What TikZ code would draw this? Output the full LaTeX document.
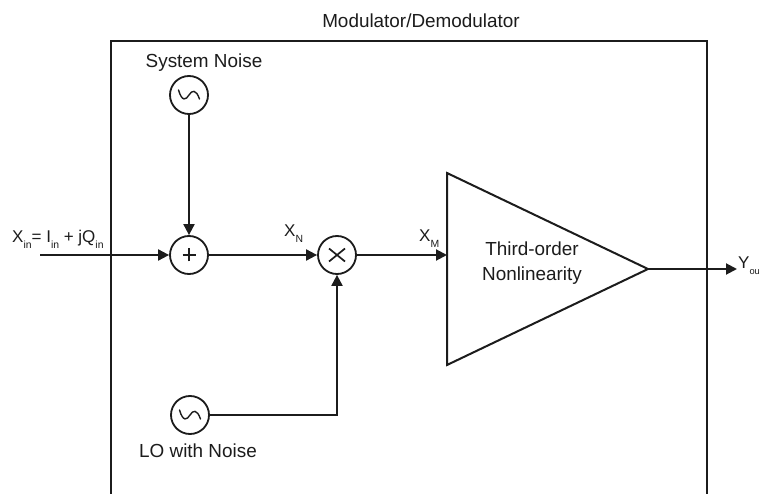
\documentclass[tikz,border=0pt]{standalone}
\usepackage{fontspec}
\setmainfont{Liberation Sans}
\usetikzlibrary{arrows.meta}
\definecolor{ink}{HTML}{1C1C1C}
\newcommand{\sbs}[1]{\raisebox{-0.3em}{\fontsize{10.4}{12}\selectfont #1}}
\newcommand{\sbsy}[1]{\raisebox{-0.3em}{\fontsize{9.3}{12}\selectfont #1}}
\tikzset{
  x=1pt,y=-1pt,
  wire/.style={draw=ink,line width=2pt},
  flow/.style={wire,-{Triangle[length=11pt,width=11pt]}},
  circ/.style={circle,draw=ink,line width=1.8pt,fill=white,minimum size=38pt,inner sep=0pt},
  lbl/.style={text=ink,font=\fontsize{18.9}{22}\selectfont,inner sep=0pt},
  tiny/.style={text=ink,font=\fontsize{17}{19}\selectfont,inner sep=0pt},
  sine/.style={draw=ink,line width=1.4pt,line cap=round}
}
\begin{document}
\begin{tikzpicture}
\useasboundingbox (0,0) rectangle (760,494);
\path[fill=white] (0,0) rectangle (760,494);
% enclosing open box
\coordinate (bl) at (111,494);
\coordinate (tl) at (111,41);
\coordinate (tr) at (707,41);
\coordinate (br) at (707,494);
\draw[wire] (bl) -- (tl) -- (tr) -- (br);
\node[lbl] (title) at (421,21) {Modulator/Demodulator};
% nodes
\node[circ] (osc) at (189,95) {};
\node[circ] (sum) at (189,255) {};
\node[circ] (mix) at (337,255) {};
\node[circ] (lo) at (190,415) {};
\coordinate (t1) at (447,173);
\coordinate (t2) at (447,365);
\coordinate (t3) at (648,269);
\draw[wire,line join=miter] (t1) -- (t3) -- (t2) -- cycle;
\coordinate (tin) at (447,255);
\coordinate (in) at (40,255);
\coordinate (out) at (737,269);
\coordinate (corner) at (337,415);
% symbols
\draw[wire] ([xshift=-6.5pt]sum.center) -- ([xshift=6.5pt]sum.center);
\draw[wire] ([yshift=-6.5pt]sum.center) -- ([yshift=6.5pt]sum.center);
\draw[wire,line width=1.7pt] ([xshift=-8pt,yshift=-6.5pt]mix.center) -- ([xshift=8pt,yshift=6.5pt]mix.center);
\draw[wire,line width=1.7pt] ([xshift=-8pt,yshift=6.5pt]mix.center) -- ([xshift=8pt,yshift=-6.5pt]mix.center);
\draw[sine] ([xshift=-10.5pt,yshift=5pt]osc.center) .. controls ([xshift=-7pt,yshift=-7pt]osc.center) and ([xshift=-3pt,yshift=-5pt]osc.center) .. (osc.center) .. controls ([xshift=3pt,yshift=5pt]osc.center) and ([xshift=7pt,yshift=6pt]osc.center) .. ([xshift=10.5pt,yshift=-4pt]osc.center);
\draw[sine] ([xshift=-10.5pt,yshift=5pt]lo.center) .. controls ([xshift=-7pt,yshift=-7pt]lo.center) and ([xshift=-3pt,yshift=-5pt]lo.center) .. (lo.center) .. controls ([xshift=3pt,yshift=5pt]lo.center) and ([xshift=7pt,yshift=6pt]lo.center) .. ([xshift=10.5pt,yshift=-4pt]lo.center);
% connectors
\draw[flow] (osc) -- (sum);
\draw[flow] (in) -- (sum);
\draw[flow] (sum) -- (mix);
\draw[flow] (mix) -- (tin);
\draw[flow] (lo) -- (corner) -- (mix);
\draw[flow] (t3) -- (out);
% labels
\node[lbl] (sn) at (204,63) {System Noise};
\node[lbl] (ln) at (198,451) {LO with Noise};
\node[lbl,align=center] (tri) at (532,263) {Third-order\\[3pt]Nonlinearity};
\node[tiny,anchor=base west] (xin) at (12,243) {X\sbs{in}= I\sbs{in} + jQ\sbs{in}};
\node[tiny,anchor=base west] (xn) at (284,237) {X\sbs{N}};
\node[tiny,anchor=base west] (xm) at (419,242) {X\sbs{M}};
\node[tiny,anchor=base west] (yo) at (738,269) {Y\sbsy{ou}};
\end{tikzpicture}
\end{document}
